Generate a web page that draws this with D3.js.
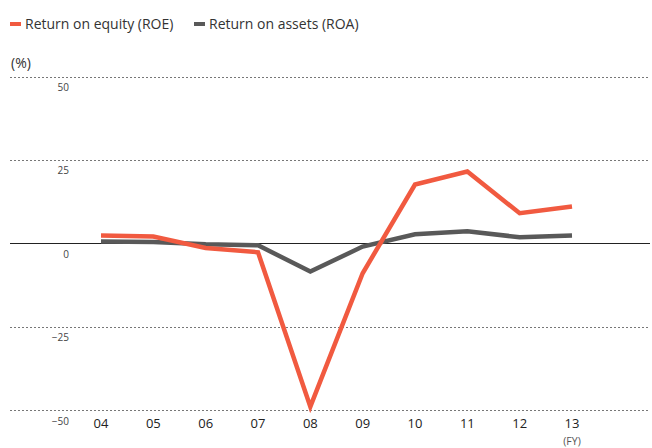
<!DOCTYPE html>
<html>
<head>
<meta charset="utf-8">
<script src="https://cdn.jsdelivr.net/npm/d3@7"></script>
<style>
  body { margin: 0; background: #fff; }
  svg { display: block; font-family: "Open Sans", "Noto Sans", sans-serif; }
</style>
</head>
<body>
<div id="chart"></div>
<script>
// fiscal years and series values (%)
let years = ["04", "05", "06", "07", "08", "09", "10", "11", "12", "13"];
let roe = [2.3, 2.0, -1.4, -2.7, -49.0, -9.0, 17.6, 21.5, 9.0, 11.0];
let roa = [0.5, 0.4, -0.3, -0.6, -8.5, -1.0, 2.7, 3.6, 1.8, 2.3];
let yTicks = [50, 25, 0, -25, -50];
let seriesNames = ["Return on equity (ROE)", "Return on assets (ROA)"];
let colors = ["#f15a40", "#595959"];

let width = 652, height = 448;

let svg = d3.select("#chart").append("svg")
  .attr("width", width)
  .attr("height", height);

// scales
let x = d3.scalePoint().domain(years).range([101, 572]);
let y = d3.scaleLinear().domain([-50, 50]).range([410, 76.5]);

// gridlines
svg.append("g")
  .selectAll("line")
  .data(yTicks.filter(d => d !== 0))
  .join("line")
  .attr("x1", 10)
  .attr("x2", 650)
  .attr("y1", d => Math.round(y(d)) + 0.5)
  .attr("y2", d => Math.round(y(d)) + 0.5)
  .attr("stroke", "#777")
  .attr("stroke-width", 1)
  .attr("stroke-dasharray", "2,2");

// y tick labels
svg.append("g")
  .selectAll("text")
  .data(yTicks)
  .join("text")
  .attr("x", 69)
  .attr("y", d => y(d) + 14.5)
  .attr("text-anchor", "end")
  .attr("font-size", 10)
  .attr("fill", "#444")
  .text(d => d < 0 ? "\u2212" + Math.abs(d) : d);

// zero line
svg.append("line")
  .attr("x1", 10)
  .attr("x2", 650)
  .attr("y1", Math.round(y(0)) + 0.5)
  .attr("y2", Math.round(y(0)) + 0.5)
  .attr("stroke", "#222")
  .attr("stroke-width", 1);

// x axis labels
svg.append("g")
  .selectAll("text")
  .data(years)
  .join("text")
  .attr("x", d => x(d))
  .attr("y", 428)
  .attr("text-anchor", "middle")
  .attr("font-size", 13)
  .attr("fill", "#222")
  .text(d => d);

svg.append("text")
  .attr("x", x("13"))
  .attr("y", 445)
  .attr("text-anchor", "middle")
  .attr("font-size", 10.5)
  .attr("fill", "#555")
  .text("(FY)");

svg.append("text")
  .attr("x", 11)
  .attr("y", 68)
  .attr("font-size", 14)
  .attr("fill", "#333")
  .text("(%)");

// lines
let line = d3.line()
  .x((d, i) => x(years[i]))
  .y(d => y(d));

[roa, roe].forEach((vals, k) => {
  svg.append("path")
    .datum(vals)
    .attr("fill", "none")
    .attr("stroke", k === 0 ? colors[1] : colors[0])
    .attr("stroke-width", 4.5)
    .attr("stroke-linejoin", "miter")
    .attr("d", line);
});

// legend
let legendX = [10, 194];
let legend = svg.selectAll(".legend")
  .data(seriesNames)
  .join("g")
  .attr("class", "legend")
  .attr("transform", (d, i) => "translate(" + legendX[i] + ",0)");

legend.append("rect")
  .attr("x", 0)
  .attr("y", 22)
  .attr("width", 11)
  .attr("height", 4)
  .attr("fill", (d, i) => colors[i]);

legend.append("text")
  .attr("x", 15)
  .attr("y", 29)
  .attr("font-size", 14)
  .attr("fill", "#333")
  .text(d => d);
</script>
</body>
</html>
